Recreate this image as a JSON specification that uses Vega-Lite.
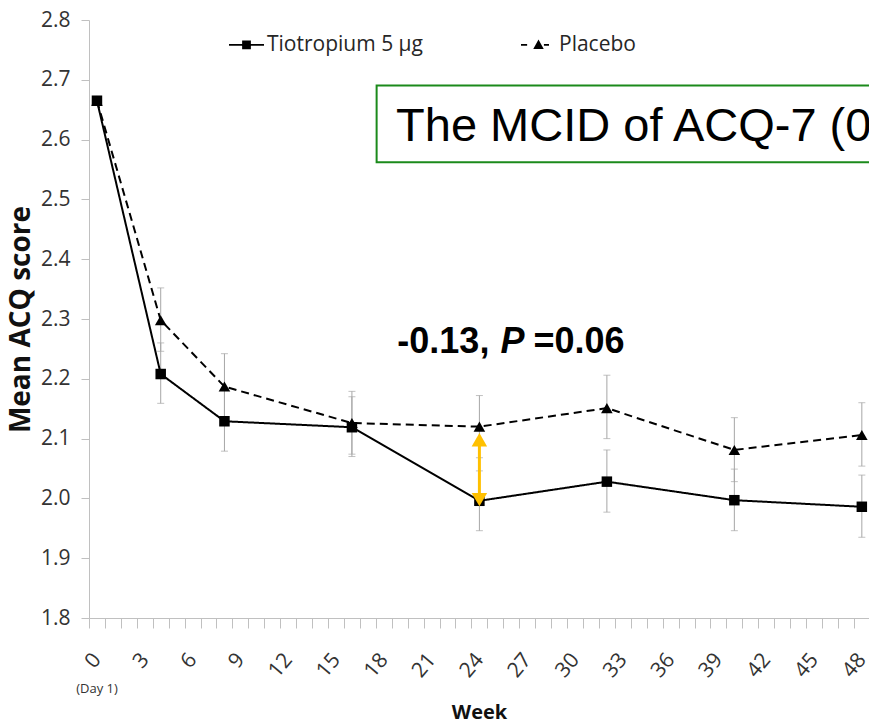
{
  "$schema": "https://vega.github.io/schema/vega-lite/v6.json",
  "width": 780,
  "height": 598,
  "autosize": {"type": "none"},
  "padding": {"left": 89, "top": 20, "right": 0, "bottom": 108},
  "background": "white",
  "config": {"view": {"stroke": null}, "font": "Open Sans"},
  "resolve": {"scale": {"shape": "independent", "size": "independent"}},
  "datasets": {
    "scores": [
      {"week": 0, "group": "Tiotropium 5 µg", "mean": 2.665, "lower": null, "upper": null},
      {"week": 4, "group": "Tiotropium 5 µg", "mean": 2.208, "lower": 2.159, "upper": 2.26},
      {"week": 8, "group": "Tiotropium 5 µg", "mean": 2.129, "lower": 2.079, "upper": 2.181},
      {"week": 16, "group": "Tiotropium 5 µg", "mean": 2.119, "lower": 2.07, "upper": 2.17},
      {"week": 24, "group": "Tiotropium 5 µg", "mean": 1.996, "lower": 1.946, "upper": 2.046},
      {"week": 32, "group": "Tiotropium 5 µg", "mean": 2.028, "lower": 1.977, "upper": 2.081},
      {"week": 40, "group": "Tiotropium 5 µg", "mean": 1.997, "lower": 1.946, "upper": 2.049},
      {"week": 48, "group": "Tiotropium 5 µg", "mean": 1.986, "lower": 1.935, "upper": 2.039},
      {"week": 0, "group": "Placebo", "mean": 2.665, "lower": null, "upper": null},
      {"week": 4, "group": "Placebo", "mean": 2.298, "lower": 2.246, "upper": 2.352},
      {"week": 8, "group": "Placebo", "mean": 2.187, "lower": 2.135, "upper": 2.242},
      {"week": 16, "group": "Placebo", "mean": 2.126, "lower": 2.074, "upper": 2.179},
      {"week": 24, "group": "Placebo", "mean": 2.12, "lower": 2.068, "upper": 2.172},
      {"week": 32, "group": "Placebo", "mean": 2.151, "lower": 2.1, "upper": 2.206},
      {"week": 40, "group": "Placebo", "mean": 2.081, "lower": 2.028, "upper": 2.135},
      {"week": 48, "group": "Placebo", "mean": 2.106, "lower": 2.054, "upper": 2.16}
    ],
    "arrow": [{"week": 24, "top": 2.098, "bottom": 1.998}],
    "stat": [{"week": 24, "y": 2.243, "diff": "-0.13,", "p": "P", "pval": "=0.06"}],
    "mcid": [{"x1": 17.55, "x2": 50, "y1": 2.5621, "y2": 2.6904, "tx": 18.77, "ty": 2.5973, "label": "The MCID of ACQ-7 (0.5)"}],
    "day": [{"week": 0, "y": 1.6817, "label": "(Day 1)"}]
  },
  "layer": [
    {
      "data": {"name": "scores"},
      "transform": [{"filter": "datum.lower != null"}],
      "mark": {"type": "errorbar", "ticks": {"size": 7, "color": "#a6a6a6", "strokeWidth": 1}, "rule": {"color": "#a6a6a6", "strokeWidth": 1}},
      "encoding": {
        "x": {
          "field": "week", "type": "quantitative",
          "scale": {"domain": [-0.5, 48.45], "nice": false, "zero": false},
          "axis": {
            "values": [-0.5, 0.5, 1.5, 2.5, 3.5, 4.5, 5.5, 6.5, 7.5, 8.5, 9.5, 10.5, 11.5, 12.5, 13.5, 14.5, 15.5, 16.5, 17.5, 18.5, 19.5, 20.5, 21.5, 22.5, 23.5, 24.5, 25.5, 26.5, 27.5, 28.5, 29.5, 30.5, 31.5, 32.5, 33.5, 34.5, 35.5, 36.5, 37.5, 38.5, 39.5, 40.5, 41.5, 42.5, 43.5, 44.5, 45.5, 46.5, 47.5],
            "tickCount": 200,
            "labelExpr": "(datum.value + 0.5) % 3 === 0 ? format(datum.value + 0.5, 'd') : ''",
            "labelAngle": -50, "labelAlign": "right", "labelBaseline": "middle",
            "labelOffset": 8, "labelPadding": 28,
            "labelFont": "Open Sans", "labelFontSize": 21, "labelColor": "#333333",
            "labelOverlap": false, "labelFlush": false, "labelBound": false,
            "tickSize": 10, "tickColor": "#c0c0c0", "domainColor": "#c0c0c0", "grid": false,
            "title": "Week", "titleFont": "Open Sans", "titleFontSize": 20, "titleFontWeight": "bold", "titleColor": "#111111", "titlePadding": 22
          }
        },
        "y": {
          "field": "lower", "type": "quantitative",
          "scale": {"domain": [1.8, 2.8], "nice": false, "zero": false},
          "axis": {
            "values": [1.8, 1.9, 2.0, 2.1, 2.2, 2.3, 2.4, 2.5, 2.6, 2.7, 2.8],
            "format": ".1f",
            "labelFont": "Open Sans", "labelFontSize": 21, "labelColor": "#333333", "labelPadding": 11,
            "tickSize": 8, "tickColor": "#c0c0c0", "domainColor": "#c0c0c0", "grid": false,
            "title": "Mean ACQ score", "titleFont": "Open Sans", "titleFontSize": 28, "titleFontWeight": "bold", "titleColor": "#111111", "titlePadding": 5
          }
        },
        "y2": {"field": "upper"}
      }
    },
    {
      "data": {"name": "scores"},
      "mark": {"type": "line", "color": "black", "strokeWidth": 2},
      "encoding": {
        "x": {"field": "week", "type": "quantitative"},
        "y": {"field": "mean", "type": "quantitative"},
        "strokeDash": {
          "field": "group", "type": "nominal",
          "scale": {"domain": ["Tiotropium 5 µg", "Placebo"], "range": [[1, 0], [8, 5]]},
          "legend": null
        }
      }
    },
    {
      "data": {"name": "scores"},
      "mark": {"type": "point", "filled": true, "color": "black", "opacity": 1},
      "encoding": {
        "x": {"field": "week", "type": "quantitative"},
        "y": {"field": "mean", "type": "quantitative"},
        "shape": {"field": "group", "type": "nominal", "scale": {"domain": ["Tiotropium 5 µg", "Placebo"], "range": ["square", "triangle-up"]}, "legend": null},
        "size": {"field": "group", "type": "nominal", "scale": {"domain": ["Tiotropium 5 µg", "Placebo"], "range": [110, 135]}, "legend": null}
      }
    },
    {
      "data": {"name": "scores"},
      "mark": {"type": "point", "filled": true, "color": "black", "opacity": 0, "size": 1225},
      "encoding": {
        "x": {"field": "week", "type": "quantitative"},
        "y": {"field": "mean", "type": "quantitative"},
        "shape": {
          "field": "group", "type": "nominal",
          "scale": {"domain": ["Tiotropium 5 µg", "Placebo"], "range": ["M-1,-0.05H1V0.05H-1Z M-0.25,-0.25H0.25V0.25H-0.25Z", "M-1,-0.05H-0.65V0.05H-1Z M0.31,-0.05H0.6V0.05H0.31Z M0,-0.3L0.3,0.24L-0.3,0.24Z"]},
          "legend": {
            "title": null, "orient": "none", "legendX": 140, "legendY": 7, "direction": "horizontal",
            "labelFont": "Open Sans", "labelFontSize": 21, "labelColor": "#262626", "labelOffset": 3, "labelLimit": 0,
            "columnPadding": 98, "symbolSize": 1225, "symbolOpacity": 1, "symbolFillColor": "black", "symbolStrokeWidth": 0
          }
        }
      }
    },
    {
      "data": {"name": "arrow"},
      "mark": {"type": "rule", "color": "#FFC000", "strokeWidth": 3},
      "encoding": {
        "x": {"field": "week", "type": "quantitative"},
        "y": {"field": "bottom", "type": "quantitative"},
        "y2": {"field": "top"}
      }
    },
    {
      "data": {"name": "arrow"},
      "mark": {"type": "point", "shape": "triangle-up", "filled": true, "color": "#FFC000", "opacity": 1, "size": 240},
      "encoding": {
        "x": {"field": "week", "type": "quantitative"},
        "y": {"field": "top", "type": "quantitative"}
      }
    },
    {
      "data": {"name": "arrow"},
      "mark": {"type": "point", "shape": "triangle-down", "filled": true, "color": "#FFC000", "opacity": 1, "size": 240},
      "encoding": {
        "x": {"field": "week", "type": "quantitative"},
        "y": {"field": "bottom", "type": "quantitative"}
      }
    },
    {
      "data": {"name": "stat"},
      "mark": {"type": "text", "font": "Liberation Sans", "fontSize": 36, "fontWeight": "bold", "align": "right", "baseline": "alphabetic", "dx": 10, "color": "black"},
      "encoding": {
        "x": {"field": "week", "type": "quantitative"},
        "y": {"field": "y", "type": "quantitative"},
        "text": {"field": "diff"}
      }
    },
    {
      "data": {"name": "stat"},
      "mark": {"type": "text", "font": "Liberation Sans", "fontSize": 36, "fontWeight": "bold", "fontStyle": "italic", "align": "left", "baseline": "alphabetic", "dx": 21, "color": "black"},
      "encoding": {
        "x": {"field": "week", "type": "quantitative"},
        "y": {"field": "y", "type": "quantitative"},
        "text": {"field": "p"}
      }
    },
    {
      "data": {"name": "stat"},
      "mark": {"type": "text", "font": "Liberation Sans", "fontSize": 36, "fontWeight": "bold", "align": "left", "baseline": "alphabetic", "dx": 54, "color": "black"},
      "encoding": {
        "x": {"field": "week", "type": "quantitative"},
        "y": {"field": "y", "type": "quantitative"},
        "text": {"field": "pval"}
      }
    },
    {
      "data": {"name": "mcid"},
      "mark": {"type": "rect", "fill": "white", "stroke": "#1B8A1B", "strokeWidth": 2, "clip": true},
      "encoding": {
        "x": {"field": "x1", "type": "quantitative"},
        "x2": {"field": "x2"},
        "y": {"field": "y1", "type": "quantitative"},
        "y2": {"field": "y2"}
      }
    },
    {
      "data": {"name": "mcid"},
      "mark": {"type": "text", "font": "Liberation Sans", "fontSize": 47, "align": "left", "baseline": "alphabetic", "color": "black", "clip": true},
      "encoding": {
        "x": {"field": "tx", "type": "quantitative"},
        "y": {"field": "ty", "type": "quantitative"},
        "text": {"field": "label"}
      }
    },
    {
      "data": {"name": "day"},
      "mark": {"type": "text", "font": "Open Sans", "fontSize": 13, "align": "center", "baseline": "middle", "color": "#333333"},
      "encoding": {
        "x": {"field": "week", "type": "quantitative"},
        "y": {"field": "y", "type": "quantitative"},
        "text": {"field": "label"}
      }
    }
  ]
}
